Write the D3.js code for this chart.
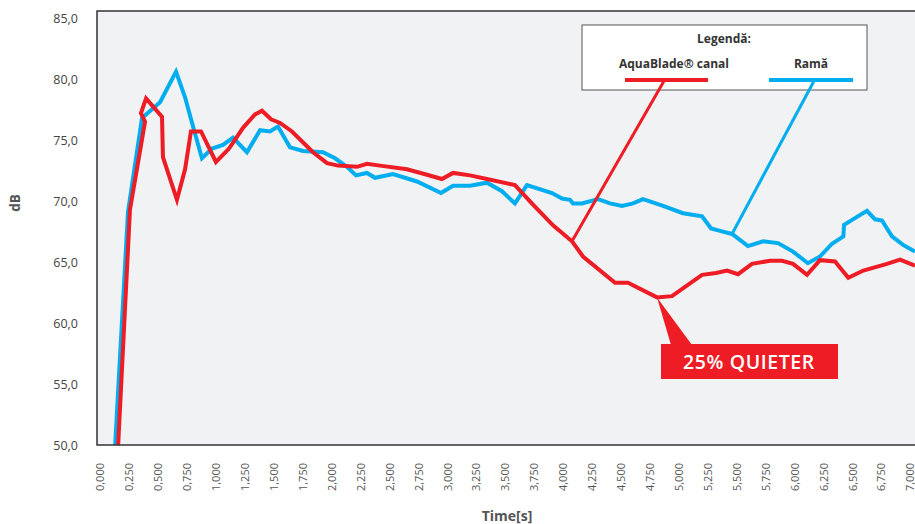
<!DOCTYPE html>
<html>
<head>
<meta charset="utf-8">
<script src="https://cdn.jsdelivr.net/npm/d3@7"></script>
<style>
  body { margin: 0; background: #fff; }
  svg { font-family: "Open Sans", "Noto Sans", sans-serif; }
</style>
</head>
<body>
<svg width="915" height="524"></svg>
<script>
// date
var xTicks = [0,0.25,0.5,0.75,1,1.25,1.5,1.75,2,2.25,2.5,2.75,3,3.25,3.5,3.75,4,4.25,4.5,4.75,5,5.25,5.5,5.75,6,6.25,6.5,6.75,7];
var yTicks = [50,55,60,65,70,75,80,85];

var seriesNames = ["AquaBlade\u00ae canal", "Ram\u0103"];

var redTime = [0.156,0.259,0.389,0.354,0.398,0.536,0.544,0.665,0.735,0.786,0.873,1.002,1.115,1.236,1.340,1.400,1.478,1.556,1.659,1.841,1.962,2.057,2.221,2.307,2.420,2.653,2.826,2.955,3.051,3.198,3.344,3.586,3.742,3.915,4.079,4.174,4.451,4.563,4.814,4.943,5.203,5.324,5.419,5.514,5.634,5.790,5.894,5.989,6.110,6.222,6.352,6.467,6.597,6.801,6.914,7.043];
var redDb   = [49.8,69.3,76.5,77.2,78.4,76.9,73.6,70.1,72.6,75.7,75.7,73.2,74.3,76.0,77.1,77.4,76.7,76.4,75.7,74.0,73.1,72.9,72.8,73.05,72.9,72.6,72.15,71.8,72.3,72.1,71.8,71.3,69.7,68.0,66.7,65.45,63.3,63.3,62.1,62.2,63.95,64.1,64.3,64.0,64.85,65.1,65.1,64.85,63.95,65.15,65.05,63.7,64.3,64.85,65.2,64.7];

var blueTime = [0.130,0.242,0.363,0.519,0.657,0.735,0.804,0.881,0.968,1.063,1.149,1.270,1.383,1.469,1.538,1.642,1.754,1.927,2.031,2.134,2.212,2.307,2.377,2.532,2.739,2.947,3.051,3.198,3.344,3.474,3.586,3.690,3.906,3.993,4.062,4.088,4.165,4.304,4.407,4.511,4.606,4.693,4.866,5.038,5.203,5.281,5.358,5.462,5.600,5.730,5.859,5.989,6.118,6.222,6.326,6.424,6.430,6.542,6.628,6.698,6.758,6.844,6.940,7.043];
var blueDb   = [49.8,69.1,76.8,78.1,80.6,78.5,76.1,73.5,74.3,74.6,75.2,74.0,75.8,75.7,76.1,74.4,74.1,74.0,73.5,72.8,72.1,72.3,71.9,72.2,71.6,70.65,71.25,71.25,71.5,70.8,69.8,71.3,70.65,70.2,70.1,69.8,69.8,70.15,69.8,69.6,69.8,70.15,69.6,69.0,68.75,67.75,67.55,67.3,66.3,66.7,66.55,65.85,64.9,65.45,66.5,67.1,68.05,68.7,69.2,68.5,68.4,67.1,66.4,65.85];

var colors = ["#ee1c25", "#00aeef"];

var svg = d3.select("svg");

var x = d3.scaleLinear().domain([0, 7]).range([100, 910]);
var y = d3.scaleLinear().domain([50, 85]).range([445, 18]);

var plotLeft = 97, plotTop = 11, plotBottom = 445, plotRight = 918;

// fundal zona grafic
svg.append("rect")
    .attr("x", plotLeft).attr("y", plotTop)
    .attr("width", plotRight - plotLeft).attr("height", plotBottom - plotTop)
    .attr("fill", "#f1f2f4");

svg.append("clipPath").attr("id", "clip")
    .append("rect")
    .attr("x", plotLeft).attr("y", plotTop)
    .attr("width", plotRight - plotLeft).attr("height", plotBottom - plotTop);

var fmtX = function(d) { return d3.format(".3f")(d).replace(".", ","); };
var fmtY = function(d) { return d3.format(".1f")(d).replace(".", ","); };

// axe
var gx = svg.append("g")
    .attr("transform", "translate(0," + plotBottom + ")")
    .call(d3.axisBottom(x).tickValues(xTicks).tickSize(0).tickFormat(fmtX));
gx.select(".domain").remove();
gx.selectAll("text")
    .attr("transform", "rotate(-90)")
    .attr("x", -18).attr("y", 0).attr("dy", "0.35em")
    .attr("text-anchor", "end")
    .attr("font-size", 11).attr("font-family", "Open Sans")
    .attr("fill", "#555");

var gy = svg.append("g")
    .attr("transform", "translate(" + plotLeft + ",0)")
    .call(d3.axisLeft(y).tickValues(yTicks).tickSize(0).tickFormat(fmtY));
gy.select(".domain").remove();
gy.selectAll("text")
    .attr("x", -19)
    .attr("font-size", 12.5).attr("font-family", "Open Sans")
    .attr("fill", "#444");

// linii
var line = d3.line()
    .x(function(d) { return x(d[0]); })
    .y(function(d) { return y(d[1]); });

var redData = d3.zip(redTime, redDb);
var blueData = d3.zip(blueTime, blueDb);

var lines = svg.append("g").attr("clip-path", "url(#clip)");
lines.append("path").datum(blueData)
    .attr("d", line).attr("fill", "none")
    .attr("stroke", colors[1]).attr("stroke-width", 4).attr("stroke-linejoin", "miter");
lines.append("path").datum(redData)
    .attr("d", line).attr("fill", "none")
    .attr("stroke", colors[0]).attr("stroke-width", 4).attr("stroke-linejoin", "miter");

// chenar
svg.append("path")
    .attr("d", "M" + plotRight + "," + plotTop + "H" + plotLeft + "V" + plotBottom + "H" + plotRight)
    .attr("fill", "none").attr("stroke", "#333").attr("stroke-width", 1.5);

// titluri axe
svg.append("text")
    .attr("x", 507).attr("y", 521)
    .attr("text-anchor", "middle")
    .attr("font-size", 14).attr("font-weight", "bold").attr("fill", "#555")
    .text("Time[s]");
svg.append("text")
    .attr("transform", "translate(20,203) rotate(-90)")
    .attr("text-anchor", "middle")
    .attr("font-size", 13.5).attr("font-weight", "bold").attr("fill", "#555")
    .text("dB");

// legenda cu linii de legatura
var legend = svg.append("g");
legend.append("rect")
    .attr("x", 582).attr("y", 25).attr("width", 285).attr("height", 65)
    .attr("fill", "#fff").attr("stroke", "#555").attr("stroke-width", 1);
legend.append("text")
    .attr("x", 724).attr("y", 43)
    .attr("text-anchor", "middle")
    .attr("font-size", 12).attr("font-weight", "bold").attr("fill", "#333")
    .text("Legend\u0103:");

var legendItems = [
    {name: seriesNames[0], cx: 674, x1: 625, x2: 708, anchor: 664, data: redData, idx: 34},
    {name: seriesNames[1], cx: 811, x1: 769, x2: 853, anchor: 814, data: blueData, idx: 47}
];
legendItems.forEach(function(it, i) {
    legend.append("text")
        .attr("x", it.cx).attr("y", 68)
        .attr("text-anchor", "middle")
        .attr("font-size", 12).attr("font-weight", "bold").attr("fill", "#333")
        .text(it.name);
    legend.append("line")
        .attr("x1", it.x1).attr("x2", it.x2).attr("y1", 80).attr("y2", 80)
        .attr("stroke", colors[i]).attr("stroke-width", 4);
    var p = it.data[it.idx];
    svg.append("line")
        .attr("x1", it.anchor).attr("y1", 81)
        .attr("x2", x(p[0])).attr("y2", y(p[1]))
        .attr("stroke", colors[i]).attr("stroke-width", 3);
});

// eticheta 25% QUIETER (varful pe minimul curbei rosii dupa 4 s)
var minIdx = 30 + d3.minIndex(redData.slice(30, 45), function(d) { return d[1]; });
var tip = redData[minIdx];
svg.append("path")
    .attr("d", "M" + x(tip[0]) + "," + y(tip[1]) + "L671,345L692,345Z")
    .attr("fill", colors[0]);
svg.append("rect")
    .attr("x", 661).attr("y", 344).attr("width", 177).attr("height", 35)
    .attr("fill", colors[0]);
svg.append("text")
    .attr("x", 749).attr("y", 368.5)
    .attr("text-anchor", "middle")
    .attr("font-size", 19.5).attr("font-weight", 600).attr("letter-spacing", 0.6).attr("fill", "#fff")
    .text("25% QUIETER");
</script>
</body>
</html>
